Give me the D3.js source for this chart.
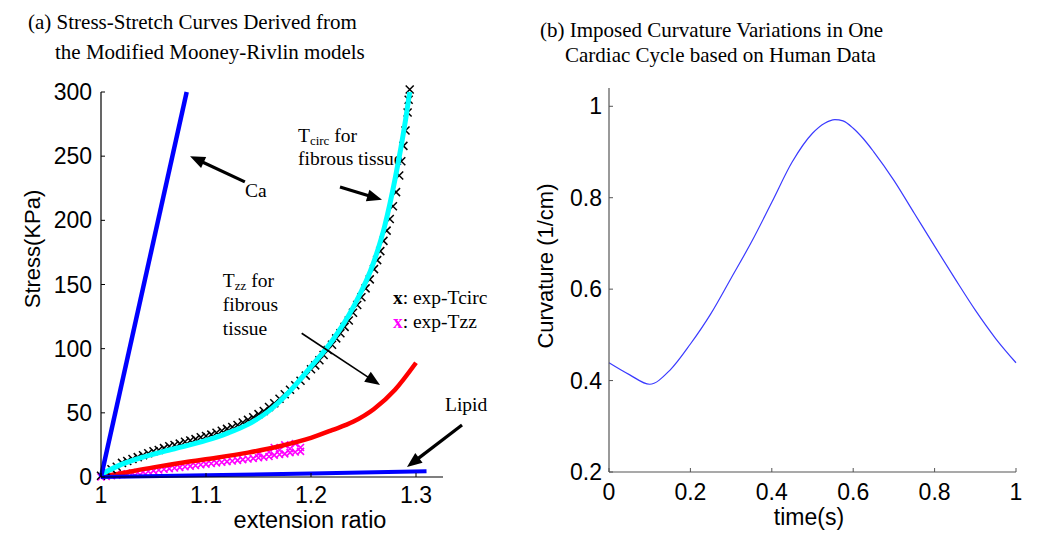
<!DOCTYPE html>
<html><head><meta charset="utf-8">
<script src="https://cdn.jsdelivr.net/npm/d3@7"></script>
<style>
body{margin:0;background:#fff;}
svg{display:block;}
.serif{font-family:"Liberation Serif","Times New Roman",serif;}
.sans{font-family:"Liberation Sans",Arial,sans-serif;}
</style></head>
<body><svg id="chart" width="1050" height="549"></svg>
<script>
// ---------- Panel (a) data ----------
const caX = [1.0, 1.0816];
const caY = [0, 300];
const lipidX = [1.0, 1.1, 1.2, 1.31];
const lipidY = [0, 1.3, 2.8, 4.5];
const tcircX = [1.000, 1.02, 1.04, 1.06, 1.08, 1.10, 1.12, 1.14, 1.16, 1.18, 1.20, 1.22, 1.24, 1.26, 1.27, 1.28, 1.29, 1.294];
const tcircY = [2, 10, 15.5, 20, 24, 28.5, 34, 41, 51.5, 67, 86, 106, 132, 168, 195, 232, 278, 300];
const tzzX = [1.0, 1.02, 1.05, 1.08, 1.11, 1.14, 1.17, 1.20, 1.22, 1.24, 1.26, 1.28, 1.30];
const tzzY = [0, 3, 7.5, 11.5, 15, 19, 24, 30.5, 36.5, 43, 53, 68, 89];
const expTcircX = [1.000,1.005,1.010,1.015,1.020,1.025,1.030,1.035,1.040,1.045,1.050,1.055,1.060,1.065,1.070,1.075,1.080,1.085,1.090,1.095,1.100,1.105,1.110,1.115,1.120,1.125,1.130,1.135,1.140,1.145,1.150,1.155,1.160,1.165,1.170,1.175,1.180,1.185,1.190,1.195,
  1.200,1.204,1.208,1.212,1.216,1.220,1.224,1.228,1.232,1.236,1.240,1.244,1.248,1.252,1.256,1.260,1.263,1.266,1.269,1.272,1.275,1.278,1.281,1.284,1.286,1.288,1.290,1.292,1.293,1.294];
const expTcircY = [1,4,6,8,11,12.5,14,15.5,17,18.5,20,21,22.5,24,25,26,27.5,28.5,29.5,31,32,33,34.5,36,37.5,39,40.5,42.5,44.5,46.5,49,51.5,54.5,57.5,61,64.5,68,71.5,75,79,
  84,87,91,95,99,103,108,112,117,122,128,134,140,147,154,162,169,176,184,192,201,211,222,235,246,258,270,284,294,302];
const expTzzX = [1.000,1.005,1.010,1.015,1.020,1.025,1.030,1.035,1.040,1.045,1.050,1.055,1.060,1.065,1.070,1.075,1.080,1.085,1.090,1.095,1.100,1.105,1.110,1.115,1.120,1.125,1.130,1.135,1.140,1.145,1.150,1.155,1.160,1.165,1.170,1.175,1.180,1.185,1.190,1.150,1.160,1.170,1.180,1.190,1.175,1.185,1.165];
const expTzzY = [0,0.5,1,1.5,2,2.5,3,3.5,4,4.5,5,5.5,6,6.5,7,7.5,8,8.5,9,9.5,10,10.5,11,11.5,12,12.5,13,13.5,14,14.5,15,15.5,16,17,17.5,18,19,19.5,20,18,19.5,21,22,23,25,26,23];
const aXTicks = [1, 1.1, 1.2, 1.3];
const aYTicks = [0, 50, 100, 150, 200, 250, 300];

// ---------- Panel (b) data ----------
const timeS = [0, 0.05, 0.1, 0.15, 0.2, 0.25, 0.3, 0.35, 0.4, 0.45, 0.5, 0.53, 0.555, 0.575, 0.6, 0.625, 0.65, 0.7, 0.75, 0.8, 0.85, 0.9, 0.95, 1.0];
const curvature = [0.439, 0.413, 0.392, 0.423, 0.48, 0.546, 0.624, 0.703, 0.79, 0.878, 0.941, 0.963, 0.971, 0.968, 0.952, 0.929, 0.901, 0.838, 0.766, 0.694, 0.623, 0.554, 0.492, 0.439];
const bXTicks = [0, 0.2, 0.4, 0.6, 0.8, 1];
const bYTicks = [0.2, 0.4, 0.6, 0.8, 1];

const svg = d3.select("#chart");

// ---------- Panel (a) ----------
const xa = d3.scaleLinear().domain([1, 1.3257]).range([101, 443]);
const ya = d3.scaleLinear().domain([0, 300]).range([477, 92]);
const ga = svg.append("g");

ga.append("text").attr("class","serif").attr("x",28).attr("y",29).attr("font-size",21).text("(a) Stress-Stretch Curves Derived from");
ga.append("text").attr("class","serif").attr("x",55).attr("y",59).attr("font-size",21).text("the Modified Mooney-Rivlin models");

// annotation texts (drawn beneath the curves)
const ann = ga.append("g").attr("class","serif").attr("font-size",19.5);
ann.append("text").attr("x",xa(1.1372)).attr("y",197).text("Ca");
const t1 = ann.append("text").attr("x",xa(1.1876)).attr("y",142);
t1.append("tspan").text("T");
t1.append("tspan").attr("font-size",13).attr("dy",3).text("circ");
t1.append("tspan").attr("dy",-3).text(" for");
ann.append("text").attr("x",xa(1.1876)).attr("y",165).text("fibrous tissue");
const t2 = ann.append("text").attr("x",xa(1.116)).attr("y",287);
t2.append("tspan").text("T");
t2.append("tspan").attr("font-size",13).attr("dy",3).text("zz");
t2.append("tspan").attr("dy",-3).text(" for");
ann.append("text").attr("x",xa(1.116)).attr("y",311).text("fibrous");
ann.append("text").attr("x",xa(1.116)).attr("y",335).text("tissue");
const l1 = ann.append("text").attr("x",xa(1.278)).attr("y",304);
l1.append("tspan").attr("font-weight","bold").text("x");
l1.append("tspan").text(": exp-Tcirc");
const l2 = ann.append("text").attr("x",xa(1.278)).attr("y",328);
l2.append("tspan").attr("font-weight","bold").attr("fill","#ff00ff").text("x");
l2.append("tspan").text(": exp-Tzz");
ann.append("text").attr("x",xa(1.3276)).attr("y",411).text("Lipid");

const xMark = s => `M${-s},${-s}L${s},${s}M${-s},${s}L${s},${-s}`;
const pts = (X, Y) => X.map((x, i) => [x, Y[i]]);

// magenta exp-Tzz markers
ga.append("g").selectAll("path").data(pts(expTzzX, expTzzY)).join("path")
  .attr("d", xMark(3.5)).attr("transform", d => `translate(${xa(d[0])},${ya(d[1])})`)
  .attr("stroke", "#ff00ff").attr("stroke-width", 1.6).attr("fill", "none");

// red Tzz
ga.append("path").datum(pts(tzzX, tzzY))
  .attr("d", d3.line().x(d => xa(d[0])).y(d => ya(d[1])).curve(d3.curveMonotoneX))
  .attr("fill","none").attr("stroke","#ff0000").attr("stroke-width",4.5);

// black exp-Tcirc markers
ga.append("g").selectAll("path").data(pts(expTcircX, expTcircY)).join("path")
  .attr("d", xMark(4)).attr("transform", d => `translate(${xa(d[0])},${ya(d[1])})`)
  .attr("stroke", "#000").attr("stroke-width", 1.5).attr("fill", "none");

// cyan Tcirc
ga.append("path").datum(pts(tcircX, tcircY))
  .attr("d", d3.line().x(d => xa(d[0])).y(d => ya(d[1])).curve(d3.curveMonotoneX))
  .attr("fill","none").attr("stroke","#00ffff").attr("stroke-width",5);

// Lipid (blue)
ga.append("path").datum(pts(lipidX, lipidY))
  .attr("d", d3.line().x(d => xa(d[0])).y(d => ya(d[1])))
  .attr("fill","none").attr("stroke","#0000ff").attr("stroke-width",4);

// Ca (blue)
ga.append("path").datum(pts(caX, caY))
  .attr("d", d3.line().x(d => xa(d[0])).y(d => ya(d[1])))
  .attr("fill","none").attr("stroke","#0000ff").attr("stroke-width",4.5);

// axes (a)
const axA = ga.append("g").attr("class","sans");
axA.append("line").attr("x1",xa(1)).attr("x2",xa(1.3257)).attr("y1",ya(0)).attr("y2",ya(0)).attr("stroke","#000").attr("stroke-width",1.2);
axA.append("line").attr("x1",xa(1)).attr("x2",xa(1)).attr("y1",ya(0)).attr("y2",ya(300)).attr("stroke","#000").attr("stroke-width",1.2);
axA.selectAll(".xt").data(aXTicks).join("line").attr("x1",d=>xa(d)).attr("x2",d=>xa(d)).attr("y1",ya(0)).attr("y2",ya(0)-4).attr("stroke","#000");
axA.selectAll(".yt").data(aYTicks).join("line").attr("x1",xa(1)).attr("x2",xa(1)+4).attr("y1",d=>ya(d)).attr("y2",d=>ya(d)).attr("stroke","#000");
axA.selectAll(".xl").data(aXTicks).join("text").attr("x",d=>xa(d)).attr("y",503).attr("text-anchor","middle").attr("font-size",23).text(d=>d);
axA.selectAll(".yl").data(aYTicks).join("text").attr("x",92).attr("y",d=>ya(d)+8).attr("text-anchor","end").attr("font-size",23).text(d=>d);
axA.append("text").attr("x",310).attr("y",528).attr("text-anchor","middle").attr("font-size",23.5).text("extension ratio");
axA.append("text").attr("transform","translate(40,249) rotate(-90)").attr("text-anchor","middle").attr("font-size",22).text("Stress(KPa)");

// annotation arrows (a) in data coordinates
const arrows = [
  {from:[1.137, 230], to:[1.0848, 250], w:3.2},
  {from:[1.2276, 226], to:[1.2676, 216], w:3.2},
  {from:[1.1911, 112], to:[1.2657, 71.7], w:1.6},
  {from:[1.3438, 40.5], to:[1.2914, 7.8], w:3.2}
];
arrows.forEach(a => {
  const x1 = xa(a.from[0]), y1 = ya(a.from[1]), x2 = xa(a.to[0]), y2 = ya(a.to[1]);
  const dx = x2 - x1, dy = y2 - y1, L = Math.hypot(dx, dy), ux = dx / L, uy = dy / L;
  const hl = 15, hw = 6;
  const bx = x2 - ux * hl, by = y2 - uy * hl;
  ga.append("line").attr("x1",x1).attr("y1",y1).attr("x2",bx+ux*2).attr("y2",by+uy*2).attr("stroke","#000").attr("stroke-width",a.w);
  ga.append("path").attr("d",`M${x2},${y2}L${bx - uy*hw},${by + ux*hw}L${bx + uy*hw},${by - ux*hw}Z`).attr("fill","#000");
});

// ---------- Panel (b) ----------
const xb = d3.scaleLinear().domain([0, 1]).range([609, 1016]);
const yb = d3.scaleLinear().domain([0.2, 1.04]).range([472, 88]);
const gb = svg.append("g");
gb.append("text").attr("class","serif").attr("x",540).attr("y",37).attr("font-size",21).text("(b) Imposed Curvature Variations in One");
gb.append("text").attr("class","serif").attr("x",565).attr("y",62).attr("font-size",21).text("Cardiac Cycle based on Human Data");

gb.append("path").datum(pts(timeS, curvature))
  .attr("d", d3.line().x(d => xb(d[0])).y(d => yb(d[1])).curve(d3.curveMonotoneX))
  .attr("fill","none").attr("stroke","#3a3aff").attr("stroke-width",1.2);

const axB = gb.append("g").attr("class","sans");
axB.append("line").attr("x1",xb(0)).attr("x2",xb(1)).attr("y1",yb(0.2)).attr("y2",yb(0.2)).attr("stroke","#555").attr("stroke-width",1.2);
axB.append("line").attr("x1",xb(0)).attr("x2",xb(0)).attr("y1",yb(0.2)).attr("y2",yb(1.04)).attr("stroke","#555").attr("stroke-width",1.2);
axB.selectAll(".xt").data(bXTicks).join("line").attr("x1",d=>xb(d)).attr("x2",d=>xb(d)).attr("y1",yb(0.2)).attr("y2",yb(0.2)-4).attr("stroke","#555");
axB.selectAll(".yt").data(bYTicks).join("line").attr("x1",xb(0)).attr("x2",xb(0)+4).attr("y1",d=>yb(d)).attr("y2",d=>yb(d)).attr("stroke","#555");
axB.selectAll(".xl").data(bXTicks).join("text").attr("x",d=>xb(d)).attr("y",500).attr("text-anchor","middle").attr("font-size",23).text(d=>d);
axB.selectAll(".yl").data(bYTicks).join("text").attr("x",602).attr("y",d=>yb(d)+8).attr("text-anchor","end").attr("font-size",23).text(d=>d);
axB.append("text").attr("x",809).attr("y",525).attr("text-anchor","middle").attr("font-size",23).text("time(s)");
axB.append("text").attr("transform","translate(553,266) rotate(-90)").attr("text-anchor","middle").attr("font-size",22).text("Curvature (1/cm)");
</script></body></html>
